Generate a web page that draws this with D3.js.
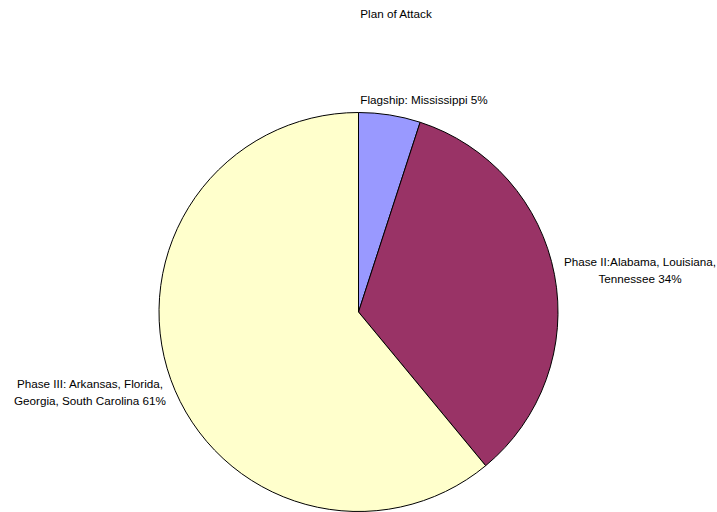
<!DOCTYPE html>
<html><head><meta charset="utf-8">
<script src="https://cdn.jsdelivr.net/npm/d3@7"></script>
<style>body{margin:0;background:#fff}text{font-family:"Liberation Sans",Arial,sans-serif;font-size:11.7px;fill:#000}</style>
</head><body>
<svg id="c" width="717" height="512"></svg>
<script>
const categories = ["Flagship: Mississippi", "Phase II:Alabama, Louisiana, Tennessee", "Phase III: Arkansas, Florida, Georgia, South Carolina"];
const values = [5, 34, 61];
const labelLines = [["Flagship: Mississippi 5%"], ["Phase II:Alabama, Louisiana,", "Tennessee 34%"], ["Phase III: Arkansas, Florida,", "Georgia, South Carolina 61%"]];
const colors = ["#9999FF", "#993366", "#FFFFCC"];
const title = "Plan of Attack";

const svg = d3.select("#c");
const cx = 358.5, cy = 312, r = 199.5;
svg.append("text").attr("x", 396).attr("y", 18).attr("text-anchor", "middle").text(title);

const pie = d3.pie().sort(null).value(d => d)(values);
const arc = d3.arc().innerRadius(0).outerRadius(r);
const g = svg.append("g").attr("transform", `translate(${cx},${cy})`);
g.selectAll("path").data(pie).join("path")
  .attr("d", arc).attr("fill", (d, i) => colors[i])
  .attr("stroke", "#000").attr("stroke-width", 1);

const labelPos = [[424, 104], [640, 266], [90, 388]];
labelLines.forEach((lines, i) => {
  const t = svg.append("text").attr("text-anchor", "middle");
  lines.forEach((l, j) => t.append("tspan").attr("x", labelPos[i][0]).attr("y", labelPos[i][1] + j * 17).text(l));
});
</script>
</body></html>
